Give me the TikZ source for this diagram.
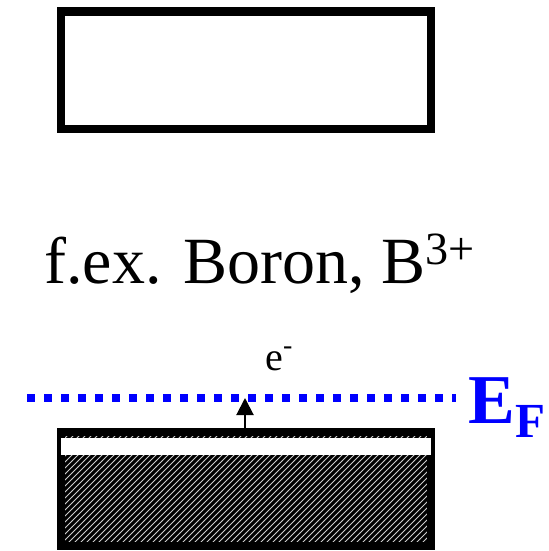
\documentclass[tikz,border=0pt]{standalone}
\usepackage{fontspec}
\setmainfont{Liberation Serif}
\usetikzlibrary{arrows.meta,patterns}

\begin{document}
\begin{tikzpicture}[x=0.5pt,y=-0.5pt]
        \tikzset{band/.style={draw, line width=4.2pt, minimum width=185pt, inner sep=0pt},
                 elarrow/.style={-{Triangle[length=8.5pt, width=8.5pt]}, line width=1pt},
                 fermi/.style={blue, line width=4pt, dash pattern=on 4pt off 4.5pt}}
        \useasboundingbox (0,0) rectangle (548,551);
        % conduction band (empty)
        \node[band, minimum height=58.75pt] (cond) at (246,70.25) {};
        % valence band (filled)
        \node[band, minimum height=57pt, preaction={fill=black},
              pattern=north east lines, pattern color=gray!40!white] (val) at (246,489) {};
        \fill[white] (61,437.7) rectangle (431,454.7);
        
        \node[anchor=base west, inner sep=0pt, font=\fontsize{33}{40}\selectfont] (boron) at (44,283) {f.ex. Boron, B\textsuperscript{3+}};
        
        % Fermi level
        \coordinate (efl) at (27,398);
        \coordinate (efr) at (456,398);
        \draw[fermi] (efl) -- (efr);
        \node[anchor=base west, inner sep=0pt, blue, font=\fontsize{35}{42}\selectfont\bfseries] (ef) at (468,423) {E\textsubscript{F}};
        
        \coordinate (accept) at (245,398);
        \draw[elarrow] (val.north -| accept) -- (accept);
        \node[anchor=base west, inner sep=0pt, font=\fontsize{20}{24}\selectfont] (elec) at (265,370) {e\textsuperscript{-}};
\end{tikzpicture}
\end{document}
